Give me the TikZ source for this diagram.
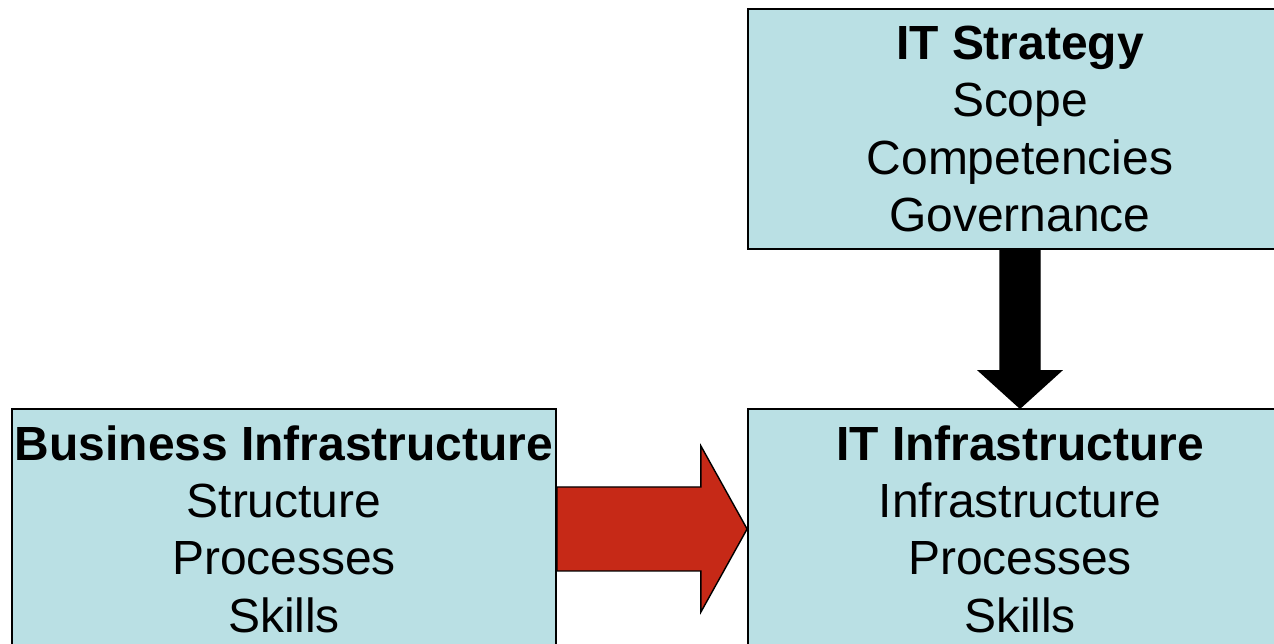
\documentclass[tikz,border=0pt]{standalone}
\usepackage{fontspec}
\setmainfont{Liberation Sans}
\usepackage{xcolor}
\usetikzlibrary{positioning, calc}

\definecolor{boxfill}{RGB}{186,224,228}
\definecolor{arrowred}{RGB}{198,41,23}

\begin{document}
\begin{tikzpicture}[
    x=0.02cm, y=-0.02cm,
    infobox/.style={rectangle, draw=black, line width=1.1pt, fill=boxfill, minimum width=10.88cm, minimum height=4.8cm, inner sep=0pt, align=center, font=\fontsize{27.3}{32.6}\selectfont},
    blockarrow/.style={draw=black, line width=0.8pt, line join=miter}
]
\useasboundingbox (0,0) rectangle (1274,644);
\clip (0,0) rectangle (1274,644);

% Boxes
\node[infobox] (strategy) at (1020,129) {\textbf{IT Strategy}\\Scope\\Competencies\\Governance};
\node[infobox] (business) at (284,529) {\textbf{Business Infrastructure}\\Structure\\Processes\\Skills};
\node[infobox] (itinfra) at (1020,529) {\textbf{IT Infrastructure}\\Infrastructure\\Processes\\Skills};

% Arrows
\draw[blockarrow, fill=black] ($(strategy.south)+(-20,0)$) -- ++(0,121) -- ++(-21,0) -- (itinfra.north)
    -- ($(strategy.south)+(41,121)$) -- ++(-21,0) -- ($(strategy.south)+(20,0)$) -- cycle;
\draw[blockarrow, fill=arrowred] ($(business.east)+(0,-42)$) -- ++(144,0) -- ++(0,-41) -- (itinfra.west)
    -- ($(business.east)+(144,83)$) -- ++(0,-41) -- ($(business.east)+(0,42)$) -- cycle;

\end{tikzpicture}
\end{document}
